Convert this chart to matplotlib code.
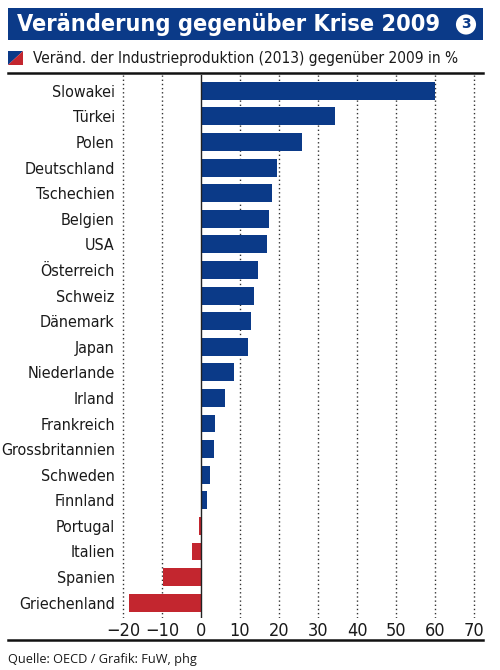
import matplotlib.pyplot as plt
from matplotlib.patches import Rectangle, Polygon
from matplotlib.lines import Line2D

# Daten
laender = ['Slowakei', 'Türkei', 'Polen', 'Deutschland', 'Tschechien', 'Belgien',
           'USA', 'Österreich', 'Schweiz', 'Dänemark', 'Japan', 'Niederlande',
           'Irland', 'Frankreich', 'Grossbritannien', 'Schweden', 'Finnland',
           'Portugal', 'Italien', 'Spanien', 'Griechenland']
werte = [60.0, 34.4, 26.0, 19.4, 18.3, 17.4, 17.0, 14.7, 13.7, 12.8, 12.1, 8.4,
         6.2, 3.5, 3.3, 2.2, 1.5, -0.4, -2.2, -9.7, -18.5]
xticks = [-20, -10, 0, 10, 20, 30, 40, 50, 60, 70]

titel = 'Veränderung gegenüber Krise 2009'
untertitel = 'Veränd. der Industrieproduktion (2013) gegenüber 2009 in %'
quelle = 'Quelle: OECD / Grafik: FuW, phg'

blau = '#0b3a88'
rot = '#c3262f'
schmal = dict(family='DejaVu Sans', stretch='condensed')

W, H = 500, 670
fig = plt.figure(figsize=(W / 100, H / 100), dpi=100)


def fx(px):
    return px / W


def fy(py):
    return 1 - py / H


# Titelbalken
fig.patches.append(Rectangle((fx(8), fy(40)), fx(475), 32 / H, transform=fig.transFigure,
                             facecolor=blau, edgecolor='none'))
fig.text(fx(17), fy(24), titel, color='white', fontsize=16.8, fontweight='bold',
         va='center', ha='left', **schmal)
fig.text(fx(466), fy(24.5), '3', color=blau, fontsize=10, fontweight='bold',
         family='DejaVu Sans', va='center', ha='center',
         bbox=dict(boxstyle='circle,pad=0.22', facecolor='white', edgecolor='none'))

# Legendensymbol
fig.patches.append(Polygon([(fx(8), fy(51)), (fx(23), fy(51)), (fx(8), fy(65))],
                           closed=True, transform=fig.transFigure, facecolor=blau, edgecolor='none'))
fig.patches.append(Polygon([(fx(23), fy(51)), (fx(23), fy(65)), (fx(8), fy(65))],
                           closed=True, transform=fig.transFigure, facecolor=rot, edgecolor='none'))
fig.text(fx(33), fy(58), untertitel, fontsize=11.1, va='center', ha='left',
         color='#1a1a1a', **schmal)

# Linien oben und unten
fig.add_artist(Line2D([fx(8), fx(483)], [fy(73), fy(73)], color='#111111', lw=1.8,
                      transform=fig.transFigure))
fig.add_artist(Line2D([fx(8), fx(483)], [fy(640), fy(640)], color='#111111', lw=1.8,
                      transform=fig.transFigure))

fig.text(fx(8), fy(659), quelle, fontsize=9.2, family=['Open Sans', 'DejaVu Sans'],
         va='center', ha='left', color='#1a1a1a')

# Diagramm
ax = fig.add_axes([fx(119), fy(618), fx(478) - fx(119), (618 - 75) / H])
y = list(range(len(laender)))
farben = [blau if v >= 0 else rot for v in werte]
ax.barh(y, werte, height=0.7, color=farben, zorder=3)

for t in xticks:
    if t == 0:
        ax.axvline(0, color='#222222', lw=1.0, zorder=4)
    else:
        ax.axvline(t, color='#333333', lw=1.0, ls=(0, (1, 2)), zorder=1)

ax.set_xlim(-21, 71)
ax.set_ylim(20.6, -0.62)
ax.set_xticks(xticks)
ax.set_xticklabels([str(t).replace('-', '\u2212') for t in xticks],
                   fontsize=13, color='#1a1a1a', **schmal)
ax.set_yticks(y)
ax.set_yticklabels(laender, fontsize=11.5, color='#1a1a1a', **schmal)
ax.tick_params(axis='both', length=0)
ax.tick_params(axis='x', pad=3)
ax.tick_params(axis='y', pad=3)
for s in ax.spines.values():
    s.set_visible(False)

fig.savefig('out.png', dpi=100)
